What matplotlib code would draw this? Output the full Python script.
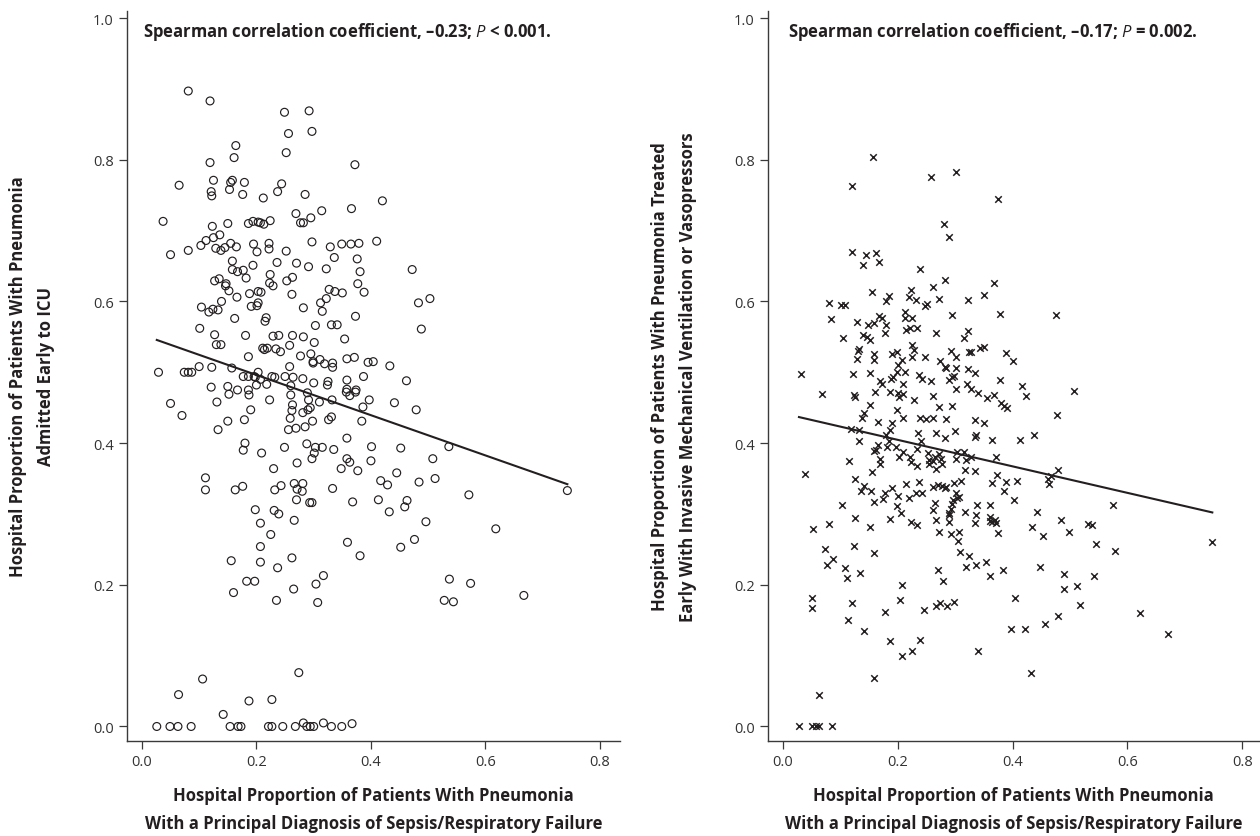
import matplotlib
matplotlib.use('Agg')
import matplotlib.pyplot as plt
from matplotlib.ticker import FormatStrFormatter
import numpy as np

plt.rcParams['font.family'] = ['Open Sans', 'DejaVu Sans']
plt.rcParams['mathtext.fontset'] = 'custom'
plt.rcParams['mathtext.it'] = 'Open Sans:italic'
plt.rcParams['mathtext.rm'] = 'Open Sans'

# left panel: sepsis/resp failure share vs admitted early to ICU
icu_x = [0.081, 0.119, 0.249, 0.292, 0.256, 0.297, 0.164, 0.161, 0.252, 0.372, 0.119, 0.065, 0.125, 0.121, 0.122,
         0.153, 0.155, 0.158, 0.179, 0.176, 0.212, 0.237, 0.244, 0.285, 0.420, 0.366, 0.314, 0.295, 0.269, 0.277,
         0.282, 0.037, 0.123, 0.150, 0.186, 0.194, 0.203, 0.207, 0.213, 0.224, 0.050, 0.081, 0.103, 0.112, 0.125,
         0.136, 0.129, 0.138, 0.145, 0.155, 0.165, 0.195, 0.201, 0.222, 0.222, 0.252, 0.297, 0.329, 0.349, 0.365,
         0.379, 0.410, 0.336, 0.376, 0.158, 0.158, 0.167, 0.177, 0.182, 0.194, 0.236, 0.270, 0.291, 0.322, 0.381,
         0.377, 0.388, 0.472, 0.224, 0.223, 0.229, 0.253, 0.263, 0.127, 0.135, 0.147, 0.146, 0.152, 0.188, 0.203,
         0.208, 0.166, 0.262, 0.327, 0.337, 0.350, 0.322, 0.312, 0.315, 0.282, 0.104, 0.117, 0.124, 0.133, 0.139,
         0.191, 0.201, 0.203, 0.483, 0.503, 0.162, 0.217, 0.215, 0.303, 0.331, 0.341, 0.373, 0.101, 0.127, 0.130,
         0.138, 0.181, 0.229, 0.239, 0.263, 0.282, 0.301, 0.354, 0.488, 0.211, 0.219, 0.234, 0.242, 0.258, 0.214,
         0.186, 0.277, 0.295, 0.299, 0.299, 0.311, 0.319, 0.333, 0.333, 0.358, 0.371, 0.395, 0.404, 0.433, 0.029,
         0.074, 0.081, 0.087, 0.100, 0.122, 0.157, 0.177, 0.186, 0.196, 0.203, 0.198, 0.207, 0.218, 0.227, 0.232,
         0.250, 0.258, 0.264, 0.281, 0.300, 0.325, 0.324, 0.358, 0.358, 0.374, 0.387, 0.462, 0.121, 0.150, 0.167,
         0.186, 0.200, 0.260,
         0.152, 0.187, 0.050, 0.070, 0.131, 0.133, 0.150, 0.179, 0.190, 0.223, 0.260, 0.263, 0.262, 0.259, 0.256,
         0.269, 0.281, 0.289, 0.291, 0.290, 0.294, 0.285, 0.298, 0.310, 0.332, 0.326, 0.331, 0.357, 0.363, 0.373,
         0.384, 0.386, 0.397, 0.441, 0.479, 0.358, 0.358, 0.363, 0.348, 0.377, 0.401, 0.400, 0.452, 0.508, 0.512,
         0.484, 0.445, 0.417, 0.429, 0.413, 0.432, 0.459, 0.463, 0.496, 0.476, 0.452, 0.381, 0.359, 0.368, 0.333,
         0.335, 0.315, 0.303, 0.301, 0.297, 0.288, 0.249, 0.271, 0.230, 0.243, 0.232, 0.266, 0.281, 0.271, 0.280,
         0.270, 0.293, 0.297, 0.266, 0.231, 0.239, 0.198, 0.207, 0.225, 0.207, 0.207, 0.237, 0.262, 0.317, 0.304,
         0.265, 0.307, 0.235, 0.183, 0.197, 0.160, 0.156, 0.163, 0.176, 0.111, 0.111, 0.180, 0.177, 0.209,
         0.274, 0.106, 0.064, 0.187, 0.227, 0.142,
         0.026, 0.049, 0.063, 0.086, 0.154, 0.168, 0.173, 0.221, 0.227, 0.246, 0.268, 0.282, 0.288, 0.294, 0.300,
         0.317, 0.331, 0.349, 0.367,
         0.536, 0.571, 0.618, 0.537, 0.574, 0.528, 0.544, 0.667, 0.743]
icu_y = [0.897, 0.883, 0.867, 0.869, 0.837, 0.840, 0.820, 0.803, 0.810, 0.793, 0.796, 0.764, 0.771, 0.755, 0.749,
         0.758, 0.768, 0.771, 0.768, 0.751, 0.746, 0.755, 0.766, 0.751, 0.742, 0.731, 0.728, 0.718, 0.724, 0.711,
         0.711, 0.713, 0.706, 0.710, 0.710, 0.713, 0.712, 0.711, 0.709, 0.714, 0.666, 0.672, 0.679, 0.686, 0.690,
         0.694, 0.675, 0.672, 0.676, 0.682, 0.677, 0.681, 0.670, 0.682, 0.674, 0.671, 0.684, 0.677, 0.681, 0.681,
         0.682, 0.685, 0.662, 0.660, 0.657, 0.645, 0.642, 0.644, 0.633, 0.651, 0.655, 0.654, 0.649, 0.646, 0.642,
         0.625, 0.613, 0.645, 0.638, 0.626, 0.622, 0.629, 0.634, 0.629, 0.632, 0.625, 0.622, 0.615, 0.611, 0.614,
         0.613, 0.606, 0.610, 0.617, 0.614, 0.612, 0.604, 0.598, 0.586, 0.591, 0.592, 0.585, 0.589, 0.588, 0.600,
         0.593, 0.594, 0.598, 0.598, 0.604, 0.576, 0.577, 0.572, 0.566, 0.567, 0.567, 0.579, 0.562, 0.553, 0.539,
         0.539, 0.552, 0.551, 0.552, 0.552, 0.550, 0.542, 0.547, 0.561, 0.534, 0.534, 0.533, 0.529, 0.538, 0.532,
         0.522, 0.523, 0.526, 0.515, 0.513, 0.518, 0.512, 0.513, 0.507, 0.519, 0.521, 0.514, 0.515, 0.509, 0.500,
         0.500, 0.500, 0.500, 0.508, 0.507, 0.506, 0.494, 0.494, 0.494, 0.500, 0.493, 0.490, 0.483, 0.494, 0.493,
         0.494, 0.508, 0.493, 0.491, 0.485, 0.487, 0.482, 0.489, 0.476, 0.475, 0.494, 0.488, 0.479, 0.480, 0.475,
         0.475, 0.482, 0.481,
         0.469, 0.468, 0.456, 0.439, 0.458, 0.419, 0.431, 0.433, 0.447, 0.461, 0.468, 0.454, 0.446, 0.435, 0.419,
         0.421, 0.443, 0.471, 0.461, 0.447, 0.450, 0.423, 0.431, 0.458, 0.461, 0.433, 0.437, 0.472, 0.467, 0.472,
         0.431, 0.451, 0.461, 0.457, 0.447, 0.407, 0.378, 0.373, 0.364, 0.361, 0.395, 0.375, 0.393, 0.378, 0.350,
         0.345, 0.358, 0.347, 0.341, 0.320, 0.303, 0.310, 0.319, 0.289, 0.264, 0.253, 0.241, 0.260, 0.317, 0.336,
         0.391, 0.394, 0.394, 0.386, 0.378, 0.399, 0.394, 0.372, 0.364, 0.340, 0.334, 0.343, 0.343, 0.335, 0.332,
         0.320, 0.316, 0.316, 0.291, 0.305, 0.300, 0.306, 0.287, 0.271, 0.254, 0.232, 0.224, 0.238, 0.213, 0.201,
         0.194, 0.175, 0.178, 0.205, 0.205, 0.189, 0.234, 0.334, 0.339, 0.351, 0.334, 0.400, 0.390, 0.386,
         0.076, 0.067, 0.045, 0.036, 0.038, 0.017,
         0.0, 0.0, 0.0, 0.0, 0.0, 0.0, 0.0, 0.0, 0.0, 0.0, 0.0, 0.005, 0.0, 0.0, 0.0,
         0.005, 0.0, 0.0, 0.004,
         0.395, 0.327, 0.279, 0.208, 0.202, 0.178, 0.176, 0.185, 0.333]

# right panel: treated early with ventilation or vasopressors
vent_x = [0.157, 0.120, 0.258, 0.301, 0.375, 0.280, 0.289, 0.121, 0.145, 0.162, 0.139, 0.167, 0.239, 0.283, 0.262,
          0.368, 0.155, 0.224, 0.184, 0.179, 0.219, 0.231, 0.251, 0.247, 0.272, 0.323, 0.351, 0.081, 0.101, 0.109,
          0.083, 0.129, 0.148, 0.159, 0.167, 0.173, 0.179, 0.178, 0.213, 0.213, 0.225, 0.215, 0.222, 0.233, 0.294,
          0.378, 0.266, 0.323, 0.316, 0.105, 0.140, 0.147, 0.152, 0.133, 0.130, 0.129, 0.159, 0.159, 0.190, 0.198,
          0.208, 0.225, 0.229, 0.225, 0.248, 0.273, 0.283, 0.284, 0.301, 0.292, 0.301, 0.324, 0.328, 0.344, 0.351,
          0.388, 0.400, 0.200, 0.198, 0.212, 0.191, 0.189, 0.032, 0.122, 0.152, 0.169, 0.172, 0.237, 0.243, 0.258,
          0.289, 0.295, 0.298, 0.323, 0.334, 0.379, 0.209, 0.320, 0.328, 0.339, 0.301, 0.356, 0.368, 0.380, 0.385,
          0.390, 0.417, 0.424, 0.068, 0.124, 0.125, 0.161, 0.186, 0.201, 0.202, 0.210, 0.229, 0.262, 0.152, 0.198,
          0.272, 0.295, 0.141, 0.137,
          0.165, 0.190, 0.210, 0.238, 0.250, 0.261, 0.284, 0.335, 0.350, 0.119, 0.132, 0.187, 0.179, 0.185, 0.181,
          0.197, 0.133, 0.165, 0.162, 0.159, 0.236, 0.241, 0.266, 0.282, 0.299, 0.335, 0.337, 0.364, 0.413, 0.115,
          0.039, 0.170, 0.169, 0.203, 0.209, 0.222, 0.224, 0.233, 0.234, 0.253, 0.255, 0.254, 0.261, 0.265, 0.267,
          0.272, 0.275, 0.277, 0.301, 0.304, 0.315, 0.319, 0.327, 0.318, 0.335, 0.371, 0.156, 0.126, 0.142, 0.136,
          0.154, 0.178, 0.190, 0.200, 0.175, 0.158, 0.214, 0.237, 0.232, 0.243, 0.220, 0.261, 0.270, 0.278, 0.284,
          0.282, 0.298, 0.310, 0.301, 0.303, 0.307, 0.297, 0.294, 0.293, 0.289, 0.289, 0.289, 0.364, 0.373, 0.388,
          0.407, 0.386, 0.403, 0.103, 0.199, 0.205, 0.186, 0.262, 0.265, 0.267, 0.318, 0.338, 0.360, 0.336, 0.335,
          0.360, 0.361, 0.369, 0.372, 0.375, 0.364, 0.126, 0.152, 0.080, 0.053, 0.224, 0.233, 0.272, 0.292, 0.306,
          0.305, 0.308, 0.324, 0.319, 0.337, 0.353, 0.360, 0.383, 0.073, 0.088, 0.076, 0.108, 0.112, 0.134, 0.124,
          0.159, 0.270, 0.279, 0.208, 0.050, 0.051, 0.121, 0.204, 0.178, 0.246, 0.266, 0.273, 0.285, 0.298, 0.405,
          0.113, 0.142, 0.187, 0.239, 0.208, 0.225, 0.340, 0.398, 0.421, 0.159, 0.063,
          0.028, 0.050, 0.057, 0.063, 0.086,
          0.476, 0.507, 0.478, 0.438, 0.480, 0.467, 0.461, 0.464, 0.575, 0.443, 0.485, 0.498, 0.434, 0.453, 0.531,
          0.538, 0.546, 0.579, 0.748, 0.447, 0.489, 0.489, 0.512, 0.542, 0.517, 0.480, 0.457, 0.622, 0.671, 0.432]
vent_y = [0.804, 0.763, 0.775, 0.783, 0.745, 0.709, 0.691, 0.670, 0.665, 0.669, 0.652, 0.655, 0.646, 0.630, 0.621,
          0.626, 0.613, 0.616, 0.608, 0.600, 0.606, 0.602, 0.597, 0.593, 0.604, 0.602, 0.609, 0.598, 0.595, 0.595,
          0.575, 0.571, 0.567, 0.569, 0.579, 0.576, 0.567, 0.555, 0.585, 0.576, 0.577, 0.560, 0.563, 0.563, 0.581,
          0.582, 0.555, 0.558, 0.549, 0.549, 0.552, 0.550, 0.546, 0.533, 0.530, 0.519, 0.526, 0.517, 0.526, 0.528,
          0.518, 0.538, 0.531, 0.521, 0.522, 0.516, 0.508, 0.506, 0.506, 0.530, 0.522, 0.529, 0.529, 0.534, 0.535,
          0.527, 0.516, 0.510, 0.500, 0.501, 0.494, 0.490, 0.498, 0.498, 0.499, 0.488, 0.483, 0.496, 0.490, 0.487,
          0.489, 0.493, 0.495, 0.504, 0.499, 0.489, 0.483, 0.484, 0.476, 0.471, 0.476, 0.464, 0.468, 0.457, 0.453,
          0.449, 0.481, 0.467, 0.469, 0.468, 0.465, 0.472, 0.472, 0.471, 0.465, 0.469, 0.461, 0.467, 0.454, 0.447,
          0.451, 0.453, 0.442, 0.435,
          0.430, 0.429, 0.435, 0.435, 0.434, 0.436, 0.434, 0.432, 0.428, 0.420, 0.419, 0.419, 0.411, 0.403, 0.395,
          0.394, 0.403, 0.397, 0.390, 0.389, 0.414, 0.403, 0.414, 0.407, 0.417, 0.408, 0.412, 0.404, 0.405, 0.375,
          0.357, 0.377, 0.370, 0.381, 0.388, 0.381, 0.374, 0.391, 0.367, 0.386, 0.376, 0.370, 0.375, 0.381, 0.363,
          0.384, 0.377, 0.371, 0.378, 0.387, 0.388, 0.376, 0.380, 0.362, 0.360, 0.380, 0.359, 0.350, 0.340, 0.333,
          0.332, 0.330, 0.337, 0.326, 0.321, 0.317, 0.342, 0.345, 0.330, 0.329, 0.322, 0.338, 0.341, 0.340, 0.338,
          0.336, 0.344, 0.346, 0.330, 0.323, 0.324, 0.320, 0.314, 0.307, 0.302, 0.299, 0.289, 0.343, 0.355, 0.345,
          0.347, 0.332, 0.319, 0.312, 0.311, 0.301, 0.293, 0.305, 0.315, 0.291, 0.303, 0.313, 0.313, 0.298, 0.287,
          0.296, 0.290, 0.292, 0.287, 0.273, 0.289, 0.294, 0.282, 0.286, 0.279, 0.288, 0.284, 0.274, 0.271, 0.274,
          0.262, 0.246, 0.240, 0.225, 0.228, 0.232, 0.213, 0.221, 0.250, 0.237, 0.228, 0.223, 0.209, 0.217, 0.255,
          0.245, 0.221, 0.205, 0.200, 0.182, 0.167, 0.175, 0.178, 0.162, 0.165, 0.170, 0.175, 0.170, 0.176, 0.182,
          0.151, 0.135, 0.121, 0.122, 0.100, 0.106, 0.107, 0.137, 0.137, 0.068, 0.044,
          0.0, 0.0, 0.0, 0.0, 0.0,
          0.581, 0.473, 0.440, 0.411, 0.362, 0.354, 0.350, 0.342, 0.313, 0.303, 0.291, 0.275, 0.282, 0.269, 0.286,
          0.285, 0.258, 0.247, 0.260, 0.225, 0.215, 0.194, 0.199, 0.212, 0.172, 0.156, 0.144, 0.160, 0.130, 0.075]

# fitted lines: [intercept, slope]
icu_fit = [0.553, -0.284]
vent_fit = [0.442, -0.187]

icu_note = 'Spearman correlation coefficient, \u20130.23; $\\mathit{P}$ < 0.001.'
vent_note = 'Spearman correlation coefficient, \u20130.17; $\\mathit{P}$ = 0.002.'
xlab = 'Hospital Proportion of Patients With Pneumonia\nWith a Principal Diagnosis of Sepsis/Respiratory Failure'
icu_ylab = 'Hospital Proportion of Patients With Pneumonia\nAdmitted Early to ICU'
vent_ylab = ('Hospital Proportion of Patients With Pneumonia Treated\n'
             'Early With Invasive Mechanical Ventilation or Vasopressors')

ink = '#231f20'

fig = plt.figure(figsize=(12.6, 8.37), dpi=100)
ax1 = fig.add_axes([0.1008, 0.1135, 0.3913, 0.8722])
ax2 = fig.add_axes([0.6095, 0.1135, 0.3900, 0.8722])


def style(ax, xmax):
    ax.set_xlim(-0.026, xmax)
    ax.set_ylim(-0.0205, 1.01)
    for s in ['top', 'right']:
        ax.spines[s].set_visible(False)
    for s in ['left', 'bottom']:
        ax.spines[s].set_color('#3a3a3a')
        ax.spines[s].set_linewidth(1.0)
    ax.set_xticks([0.0, 0.2, 0.4, 0.6, 0.8])
    ax.set_yticks([0.0, 0.2, 0.4, 0.6, 0.8, 1.0])
    ax.xaxis.set_major_formatter(FormatStrFormatter('%.1f'))
    ax.yaxis.set_major_formatter(FormatStrFormatter('%.1f'))
    ax.tick_params(direction='out', length=5.5, width=0.9, color='#3a3a3a',
                   labelsize=10.5, labelcolor='#333333', pad=4)
    ax.set_xlabel(xlab, fontsize=12, fontweight='bold', color=ink, linespacing=1.7)
    ax.xaxis.set_label_coords(0.5, -0.062)


style(ax1, 0.835)
ax1.scatter(icu_x, icu_y, s=32, facecolors='none', edgecolors=ink, linewidths=0.85)
xs = np.array([min(icu_x), max(icu_x)])
ax1.plot(xs, icu_fit[0] + icu_fit[1] * xs, color=ink, lw=1.5)
ax1.text(0.033, 0.966, icu_note, transform=ax1.transAxes, fontsize=12, fontweight='bold',
         color=ink, va='baseline')
ax1.set_ylabel(icu_ylab, fontsize=12, fontweight='bold', color=ink, linespacing=1.75)
ax1.yaxis.set_label_coords(-0.146, 0.5)

style(ax2, 0.83)
ax2.scatter(vent_x, vent_y, s=22, marker='x', color=ink, linewidths=1.1)
xs = np.array([min(vent_x), max(vent_x)])
ax2.plot(xs, vent_fit[0] + vent_fit[1] * xs, color=ink, lw=1.5)
ax2.text(0.041, 0.966, vent_note, transform=ax2.transAxes, fontsize=12, fontweight='bold',
         color=ink, va='baseline')
ax2.set_ylabel(vent_ylab, fontsize=12, fontweight='bold', color=ink, linespacing=1.75)
ax2.yaxis.set_label_coords(-0.144, 0.5)

fig.savefig('out.png', dpi=100)
